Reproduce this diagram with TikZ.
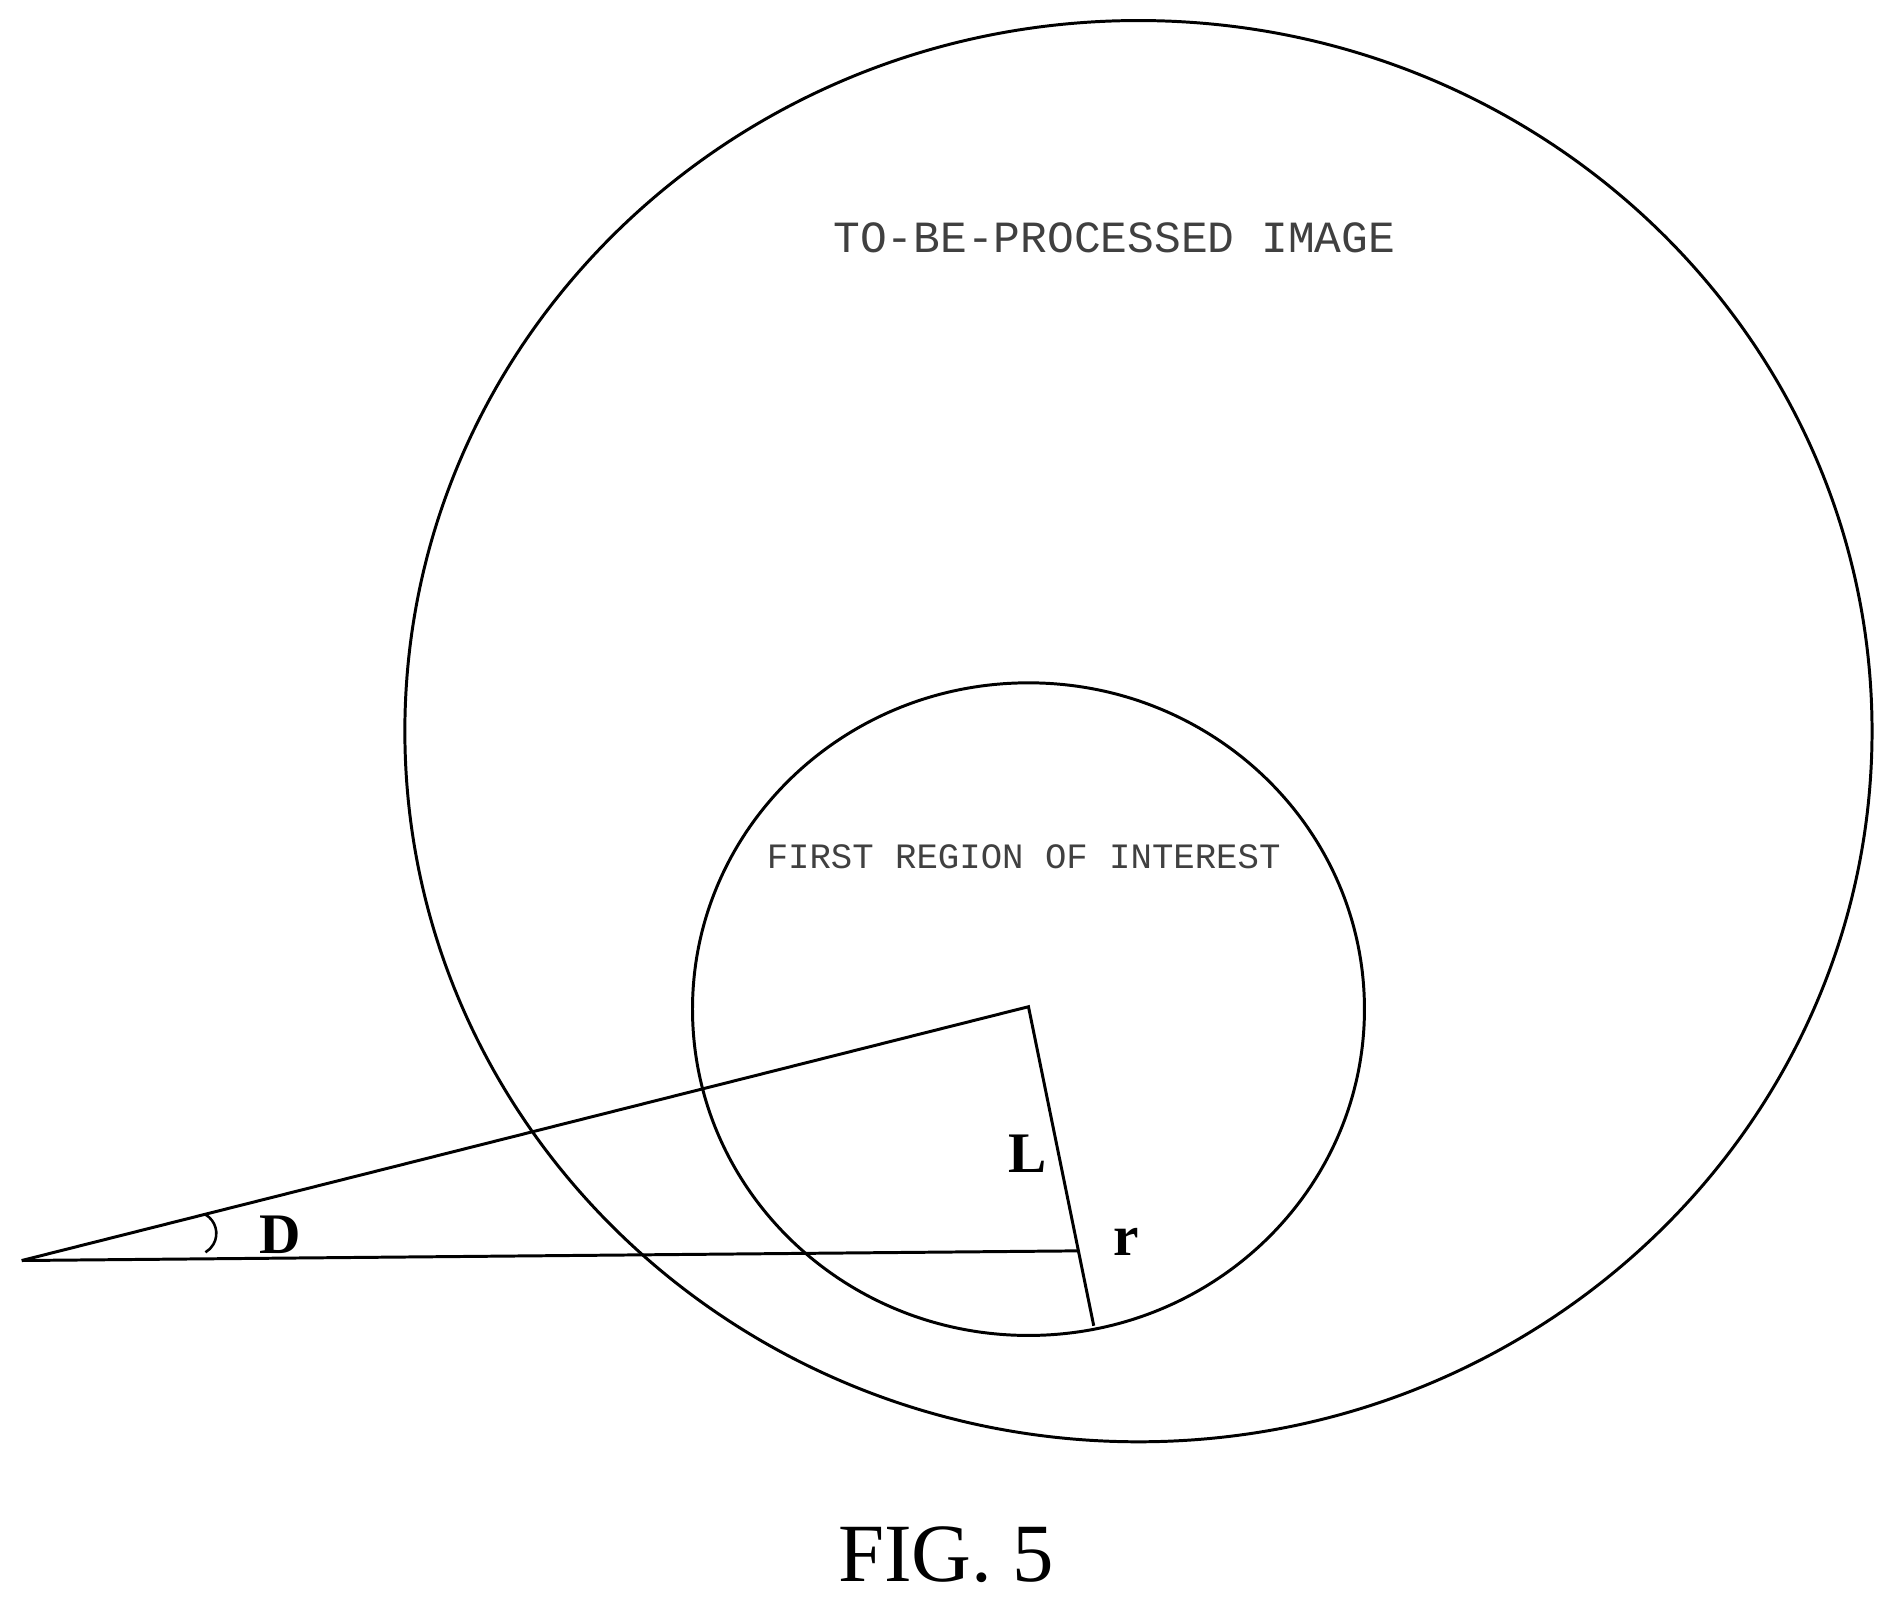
\documentclass[tikz,border=0pt]{standalone}
\usepackage{fontspec}
\setmainfont{Liberation Serif}
\newfontfamily\monof{Liberation Mono}
\begin{document}
\begin{tikzpicture}[x=0.02cm,y=-0.02cm,line width=1.4pt,
  lbl/.style={font=\monof,text=black!75},
  sym/.style={font=\bfseries\fontsize{27}{30}\selectfont}]
\useasboundingbox (0,0) rectangle (1568,1327);
\draw (942,605) ellipse [x radius=607, y radius=588];
\draw (851,835) ellipse [x radius=278, y radius=270];
\coordinate (A) at (18,1043);
\coordinate (C) at (851,833);
\coordinate (P) at (905,1097);
\coordinate (H) at (893,1035);
\draw (A) -- (C) -- (P);
\draw (A) -- (H);
\draw[line width=1.2pt] (170,1005) arc[start angle=-60, end angle=60, radius=18] ;
\node[lbl,font=\monof\fontsize{21}{23}\selectfont] (t1) at (922,197) {TO-BE-PROCESSED IMAGE};
\node[lbl,font=\monof\fontsize{16.8}{19}\selectfont] (t2) at (847,709) {FIRST REGION OF INTEREST};
\node[sym] (L) at (850,955) {L};
\node[sym] (r) at (932,1028) {r};
\node[sym] (D) at (232,1022) {D};
\node[font=\fontsize{39}{44}\selectfont] (fig) at (783,1286) {FIG. 5};
\end{tikzpicture}
\end{document}
